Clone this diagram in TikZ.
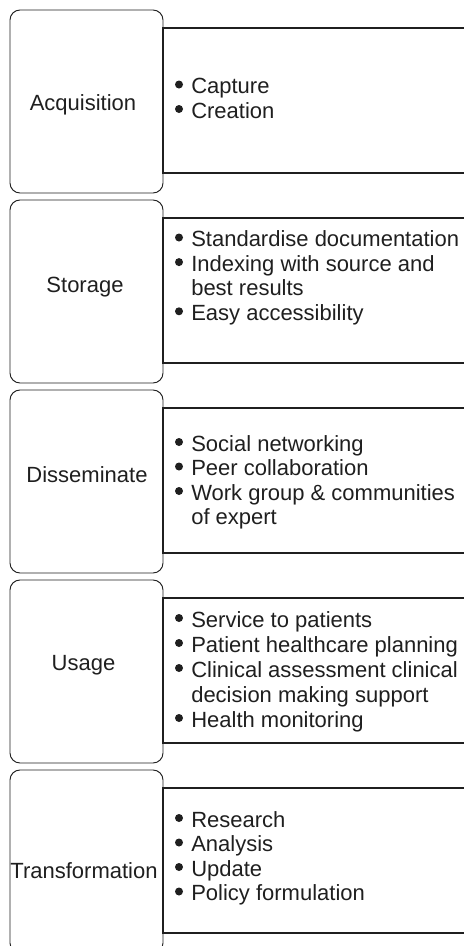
\documentclass[tikz,border=0pt]{standalone}
\usepackage{fontspec}
\setmainfont{Liberation Sans}
\begin{document}
\begin{tikzpicture}[x=0.75pt,y=-0.75pt,
  ink/.style={draw=black!88},
  rbox/.style={ink, line width=0.7pt, rounded corners=7.5pt, minimum width=114.75pt, minimum height=137.25pt, inner sep=0pt, outer sep=0pt},
  lbox/.style={ink, line width=1.5pt, minimum width=237.75pt, minimum height=108.75pt, inner sep=0pt, outer sep=0pt},
  lab/.style={anchor=base, inner sep=0pt, text=black!88, font=\fontsize{16.5}{18}\selectfont},
  itm/.style={anchor=base west, inner sep=0pt, text=black!88, font=\fontsize{16.5}{18}\selectfont},
  blt/.style={fill=black!88}]
\useasboundingbox (0,0) rectangle (464,946);
\clip (0,0) rectangle (464,946);

% ---- Block 1: Acquisition
\node[rbox] (r1) at (86.5,101.5) {};
\node[lbox] (b1) at (321.5,100.5) {};
\node[lab] (t1) at (83,110) {Acquisition};
\node[itm] (a1) at (191,93.5) {Capture};
\node[itm] (a2) at (191,118) {Creation};
\fill[blt] (179,84.5) circle[radius=3pt];
\fill[blt] (179,109) circle[radius=3pt];

% ---- Block 2: Storage
\node[rbox] (r2) at (86.5,291.5) {};
\node[lbox] (b2) at (321.5,290.5) {};
\node[lab] (t2) at (85,292.5) {Storage};
\node[itm] (s1) at (191,246.5) {Standardise documentation};
\node[itm] (s2) at (191,271.1) {Indexing with source and};
\node[itm] (s3) at (191,295.7) {best results};
\node[itm] (s4) at (191,320.3) {Easy accessibility};
\fill[blt] (179,237.5) circle[radius=3pt];
\fill[blt] (179,262.1) circle[radius=3pt];
\fill[blt] (179,311.3) circle[radius=3pt];

% ---- Block 3: Disseminate
\node[rbox] (r3) at (86.5,481.5) {};
\node[lbox] (b3) at (321.5,480.5) {};
\node[lab] (t3) at (87,482) {Disseminate};
\node[itm] (d1) at (191,451) {Social networking};
\node[itm] (d2) at (191,475.5) {Peer collaboration};
\node[itm] (d3) at (191,500) {Work group \& communities};
\node[itm] (d4) at (191,524.5) {of expert};
\fill[blt] (179,442) circle[radius=3pt];
\fill[blt] (179,466.5) circle[radius=3pt];
\fill[blt] (179,491) circle[radius=3pt];

% ---- Block 4: Usage
\node[rbox] (r4) at (86.5,671.5) {};
\node[lbox] (b4) at (321.5,670.5) {};
\node[lab] (t4) at (83.5,670) {Usage};
\node[itm] (u1) at (191,627) {Service to patients};
\node[itm] (u2) at (191,652) {Patient healthcare planning};
\node[itm] (u3) at (191,677) {Clinical assessment clinical};
\node[itm] (u4) at (191,702) {decision making support};
\node[itm] (u5) at (191,727) {Health monitoring};
\fill[blt] (179,618) circle[radius=3pt];
\fill[blt] (179,643) circle[radius=3pt];
\fill[blt] (179,668) circle[radius=3pt];
\fill[blt] (179,718) circle[radius=3pt];

% ---- Block 5: Transformation
\node[rbox] (r5) at (86.5,861.5) {};
\node[lbox] (b5) at (321.5,860.5) {};
\node[lab] (t5) at (84,878) {Transformation};
\node[itm] (f1) at (191,827) {Research};
\node[itm] (f2) at (191,851.5) {Analysis};
\node[itm] (f3) at (191,876) {Update};
\node[itm] (f4) at (191,900.5) {Policy formulation};
\fill[blt] (179,818) circle[radius=3pt];
\fill[blt] (179,842.5) circle[radius=3pt];
\fill[blt] (179,867) circle[radius=3pt];
\fill[blt] (179,891.5) circle[radius=3pt];
\end{tikzpicture}
\end{document}
